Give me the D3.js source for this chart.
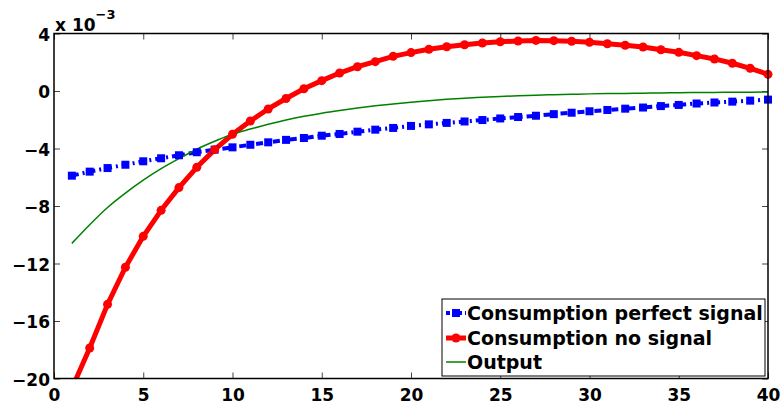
<!DOCTYPE html>
<html>
<head>
<meta charset="utf-8">
<script src="https://cdn.jsdelivr.net/npm/d3@7"></script>
<style>
  body { margin: 0; background: #fff; }
  svg text { font-family: "DejaVu Sans", sans-serif; font-weight: bold; fill: #000; }
</style>
</head>
<body>
<div id="chart"></div>
<script>
// periods 1..40, values in units of 1e-3
const periods = d3.range(1, 41);
const perfectSignal = [-5.89, -5.61, -5.36, -5.13, -4.89, -4.68, -4.47, -4.26, -4.08, -3.92,
  -3.74, -3.57, -3.40, -3.27, -3.11, -2.99, -2.83, -2.69, -2.57, -2.43,
  -2.32, -2.22, -2.12, -2.02, -1.91, -1.81, -1.72, -1.61, -1.51, -1.41,
  -1.32, -1.23, -1.15, -1.05, -0.97, -0.87, -0.80, -0.74, -0.67, -0.60];
const noSignal = [-20.7, -17.88, -14.84, -12.26, -10.11, -8.30, -6.72, -5.31, -4.08, -3.01,
  -2.09, -1.25, -0.52, 0.16, 0.72, 1.25, 1.69, 2.04, 2.41, 2.67,
  2.90, 3.08, 3.22, 3.34, 3.43, 3.48, 3.52, 3.50, 3.46, 3.39,
  3.29, 3.18, 3.06, 2.87, 2.69, 2.46, 2.23, 1.93, 1.58, 1.16];
const output = [-10.6, -9.3, -8.1, -7.1, -6.2, -5.4, -4.7, -4.05, -3.5, -3.0,
  -2.65, -2.32, -2.02, -1.76, -1.54, -1.35, -1.18, -1.03, -0.90, -0.78,
  -0.67, -0.58, -0.50, -0.44, -0.38, -0.33, -0.29, -0.26, -0.23, -0.20,
  -0.18, -0.17, -0.15, -0.14, -0.12, -0.11, -0.10, -0.09, -0.08, -0.07];
const xTicks = [0, 5, 10, 15, 20, 25, 30, 35, 40];
const yTicks = [-20, -16, -12, -8, -4, 0, 4];
const seriesNames = ["Consumption perfect signal", "Consumption no signal", "Output"];

const W = 784, H = 407;
const margin = { top: 33.5, right: 16, bottom: 28.5, left: 54 };
const w = W - margin.left - margin.right;
const h = H - margin.top - margin.bottom;

const svg = d3.select("#chart").append("svg")
  .attr("width", W).attr("height", H);

const g = svg.append("g")
  .attr("transform", `translate(${margin.left},${margin.top})`);

const x = d3.scaleLinear().domain([0, 40]).range([0, w]);
const y = d3.scaleLinear().domain([-20, 4]).range([h, 0]);

svg.append("defs").append("clipPath").attr("id", "plotclip")
  .append("rect").attr("x", 0).attr("y", 0).attr("width", w).attr("height", h);

const fmt = (d) => (d < 0 ? "\u2212" + Math.abs(d) : String(d));

// axes with inward ticks, box on all sides
const tickLen = 6;
g.append("g").attr("transform", `translate(0,${h})`)
  .call(d3.axisBottom(x).tickValues(xTicks).tickSizeInner(-tickLen).tickSizeOuter(0).tickPadding(6).tickFormat(fmt))
  .call((a) => a.select(".domain").remove())
  .call((a) => a.selectAll("text").style("font-size", "17px").attr("dy", "0.95em"));
g.append("g")
  .call(d3.axisLeft(y).tickValues(yTicks).tickSizeInner(-tickLen).tickSizeOuter(0).tickPadding(4).tickFormat(fmt))
  .call((a) => a.select(".domain").remove())
  .call((a) => a.selectAll("text").style("font-size", "17px").attr("dy", "0.4em"));
g.append("g")
  .call(d3.axisTop(x).tickValues(xTicks).tickSizeInner(-tickLen).tickSizeOuter(0).tickFormat(""))
  .call((a) => a.select(".domain").remove());
g.append("g").attr("transform", `translate(${w},0)`)
  .call(d3.axisRight(y).tickValues(yTicks).tickSizeInner(-tickLen).tickSizeOuter(0).tickFormat(""))
  .call((a) => a.select(".domain").remove());
g.selectAll(".tick line").attr("stroke", "#444").attr("stroke-width", 1);

// exponent label
const expo = g.append("text").attr("x", 1).attr("y", -3).style("font-size", "17px");
expo.append("tspan").text("x 10");
expo.append("tspan").attr("dy", -12).style("font-size", "13px").text("\u22123");

const line = (vals, curve) => d3.line().curve(curve || d3.curveLinear)
  .x((d, i) => x(periods[i])).y((d) => y(d))(vals);
const plot = g.append("g").attr("clip-path", "url(#plotclip)");
const inRange = (v) => v >= -20 && v <= 4;

// perfect signal: blue dash-dot with squares
plot.append("path").attr("d", line(perfectSignal))
  .attr("fill", "none").attr("stroke", "#0000ff").attr("stroke-width", 4)
  .attr("stroke-dasharray", "7,4,2,4");
g.append("g").selectAll("rect")
  .data(perfectSignal.map((v, i) => ({ t: periods[i], v })).filter((d) => inRange(d.v)))
  .join("rect")
  .attr("x", (d) => x(d.t) - 4).attr("y", (d) => y(d.v) - 4)
  .attr("width", 8).attr("height", 8).attr("fill", "#0000ff");

// no signal: red with circles
plot.append("path").attr("d", line(noSignal))
  .attr("fill", "none").attr("stroke", "#ff0000").attr("stroke-width", 5)
  .attr("stroke-linejoin", "round");
g.append("g").selectAll("circle")
  .data(noSignal.map((v, i) => ({ t: periods[i], v })).filter((d) => inRange(d.v)))
  .join("circle")
  .attr("cx", (d) => x(d.t)).attr("cy", (d) => y(d.v))
  .attr("r", 4.5).attr("fill", "#ff0000");

// output: thin green
plot.append("path").attr("d", line(output, d3.curveMonotoneX))
  .attr("fill", "none").attr("stroke", "#008000").attr("stroke-width", 1.5);

// frame
g.append("rect").attr("width", w).attr("height", h)
  .attr("fill", "none").attr("stroke", "#000").attr("stroke-width", 1.5);

// legend
const lg = svg.append("g").attr("transform", "translate(442,299)");
lg.append("rect").attr("width", 323).attr("height", 77)
  .attr("fill", "#fff").attr("stroke", "#000").attr("stroke-width", 1);
const rowY = [14, 39, 63];
const colors = ["#0000ff", "#ff0000", "#008000"];
seriesNames.forEach((name, i) => {
  const row = lg.append("g").attr("transform", `translate(0,${rowY[i]})`);
  const l = row.append("line").attr("x1", 4).attr("x2", 24).attr("y1", 0).attr("y2", 0)
    .attr("stroke", colors[i]);
  if (i === 0) {
    l.attr("stroke-width", 4).attr("stroke-dasharray", "4,3,2,3");
    row.append("rect").attr("x", 10).attr("y", -4).attr("width", 8).attr("height", 8).attr("fill", colors[i]);
  } else if (i === 1) {
    l.attr("stroke-width", 5);
    row.append("circle").attr("cx", 14).attr("cy", 0).attr("r", 4.5).attr("fill", colors[i]);
  } else {
    l.attr("stroke-width", 1.5);
  }
  row.append("text").attr("x", 25).attr("y", 6.5).style("font-size", "19px").text(name);
});
</script>
</body>
</html>
